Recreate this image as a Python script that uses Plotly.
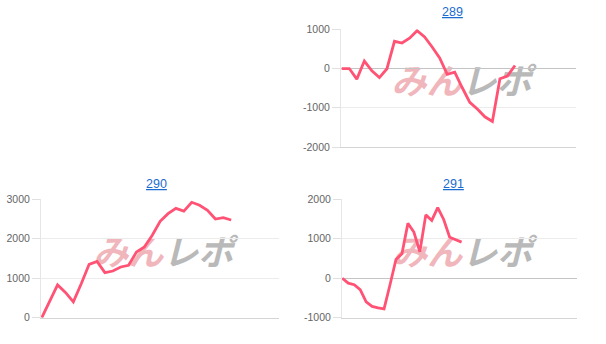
import plotly.graph_objects as go

W, H = 606, 344

# ---- data ----
titles = ["289", "290", "291"]
s289 = [0, 0, -270, 190, -60, -230, -5, 695, 650, 775, 965, 805, 550, 270,
        -150, -95, -490, -860, -1030, -1230, -1350, -260, -190, 76]
s290 = [0, 420, 830, 640, 400, 860, 1352, 1428, 1141, 1183, 1285, 1327, 1665,
        1792, 2088, 2443, 2637, 2770, 2700, 2924, 2849, 2722, 2500, 2533, 2475]
s291 = [0, -125, -165, -290, -600, -715, -750, -775, -165, 475, 620, 1390,
        1170, 670, 1605, 1465, 1790, 1490, 1040, 975, 914]
yticks289 = [-2000, -1000, 0, 1000]
yticks290 = [0, 1000, 2000, 3000]
yticks291 = [-1000, 0, 1000, 2000]

LINE = "#ff5274"
GRID = "#ececec"
TICKC = "#e0e0e0"
ZERO = "#c4c4c4"
FONT = "Liberation Sans, Arial, sans-serif"

def px(x):
    return x / W

def py(y):
    return 1 - y / H

panels = [
    # (series, x-domain px, y-domain px (top,bottom), xrange, yrange, ticks, title pos)
    (s289, (341, 576), (29.3, 147.0), [-0.1, 31.1], [-2000, 1000], yticks289, (452, 12.5)),
    (s290, (41, 279.3), (199.3, 317.7), [-0.1, 30.1], [0, 3000], yticks290, (156, 184)),
    (s291, (342, 576.7), (199.3, 317.7), [-0.05, 39.3], [-1000, 2000], yticks291, (453, 184)),
]

fig = go.Figure()
layout = dict(
    template="none",
    width=W, height=H, autosize=False,
    margin=dict(l=0, r=0, t=0, b=0, pad=0),
    paper_bgcolor="white", plot_bgcolor="white",
    showlegend=False,
    font=dict(family=FONT, size=10, color="#666666"),
)
annotations = []
shapes = []

for i, (vals, xd, yd, xr, yr, yt, tpos) in enumerate(panels):
    n = "" if i == 0 else str(i + 1)
    xa = "x" + n
    ya = "y" + n
    fig.add_trace(go.Scatter(
        x=list(range(len(vals))), y=vals, mode="lines",
        line=dict(color=LINE, width=2.8), xaxis=xa, yaxis=ya,
        hoverinfo="skip",
    ))
    layout["xaxis" + n] = dict(
        domain=[px(xd[0]), px(xd[1])], range=xr, anchor=ya, automargin=False,
        showgrid=False, zeroline=False, showticklabels=False, ticks="",
        showline=True, linecolor="#d4d4d4", linewidth=1, fixedrange=True,
    )
    layout["yaxis" + n] = dict(
        domain=[py(yd[1]), py(yd[0])], range=yr, anchor=xa, automargin=False,
        tickvals=yt, ticktext=[str(v) for v in yt],
        showgrid=True, gridcolor=GRID, gridwidth=1,
        zeroline=True, zerolinecolor=ZERO, zerolinewidth=1,
        showline=True, linecolor="#e6e6e6", linewidth=1,
        ticks="outside", ticklen=8, tickcolor=TICKC, tickwidth=1,
        tickfont=dict(family=FONT, size=10.5, color="#666666"),
        fixedrange=True,
    )
    annotations.append(dict(
        x=px(tpos[0]), y=py(tpos[1]), xref="paper", yref="paper",
        text='<span style="text-decoration:underline">%s</span>' % titles[i],
        showarrow=False, xanchor="center", yanchor="middle",
        font=dict(family=FONT, size=12.5, color="#1a6ccf"),
    ))
    # watermark (drawn below the line)
    cx = (xd[0] + xd[1]) / 2 + 3
    cy = yd[0] + (yd[1] - yd[0]) * 0.43 + 5
    shapes.append(dict(
        type="rect", xref="paper", yref="paper", layer="below",
        x0=px(cx - 80), x1=px(cx + 80), y0=py(cy + 18), y1=py(cy - 18),
        line=dict(width=0), fillcolor="rgba(0,0,0,0)",
        label=dict(
            text='<span style="color:#f0b6bb">みん</span><span style="color:#b9b9b9">レポ</span>',
            textposition="middle center",
            font=dict(family="Noto Sans CJK JP", size=35, color="#b9b9b9",
                      weight="bold", style="italic"),
        ),
    ))

layout["annotations"] = annotations
layout["shapes"] = shapes
fig.update_layout(**layout)
fig.write_html("out.html", config={"displayModeBar": False})
